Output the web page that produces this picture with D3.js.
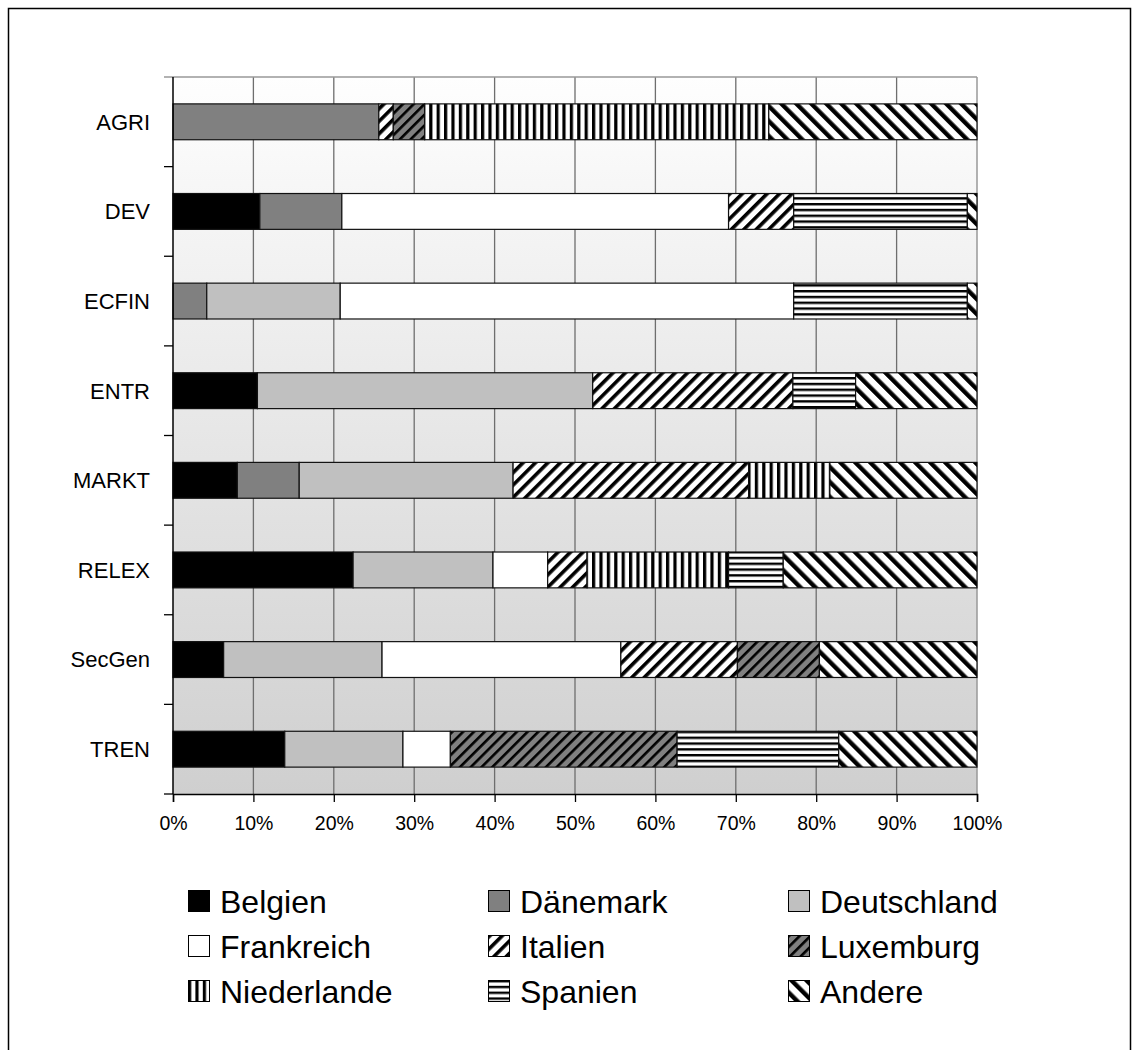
<!DOCTYPE html>
<html lang="de">
<head>
  <meta charset="utf-8">
  <title>Anteile nach Generaldirektion</title>
  <style>
  html, body {padding: 0; margin: 0; overflow: hidden; background: #fff}
  text {font-family: Arial, "Liberation Sans", sans-serif; fill: #000}
</style>
</head>
<body>
  <svg width="1138" height="1050"></svg>
  <script src="https://d3js.org/d3.v7.min.js"></script>
  <script>

  // Werte in Prozent
  var categories = ["AGRI", "DEV", "ECFIN", "ENTR", "MARKT", "RELEX", "SecGen", "TREN"];
  var countries = ["Belgien", "Dänemark", "Deutschland", "Frankreich", "Italien", "Luxemburg", "Niederlande", "Spanien", "Andere"];

  var belgien     = [0,    10.8, 0,    10.5, 8.0,  22.4, 6.3,  13.9];
  var daenemark   = [25.6, 10.2, 4.2,  0,    7.7,  0,    0,    0];
  var deutschland = [0,    0,    16.6, 41.7, 26.6, 17.4, 19.7, 14.7];
  var frankreich  = [0,    48.1, 56.4, 0,    0,    6.8,  29.7, 5.9];
  var italien     = [1.8,  8.1,  0,    24.9, 29.3, 4.9,  14.5, 0];
  var luxemburg   = [3.9,  0,    0,    0,    0,    0,    10.2, 28.2];
  var niederlande = [42.8, 0,    0,    0,    10.1, 17.6, 0,    0];
  var spanien     = [0,    21.6, 21.6, 7.8,  0,    6.8,  0,    20.1];
  var andere      = [25.9, 1.2,  1.2,  15.1, 18.3, 24.1, 19.6, 17.2];

  var xTicks = [0, 0.1, 0.2, 0.3, 0.4, 0.5, 0.6, 0.7, 0.8, 0.9, 1];

  var series = [belgien, daenemark, deutschland, frankreich, italien, luxemburg, niederlande, spanien, andere];

  var rows = categories.map(function(c, i) {
    var r = {cat: c};
    countries.forEach(function(k, j) { r[k] = series[j][i]; });
    return r;
  });

  var svg = d3.select("svg"),
      width = 1138,
      height = 1050,
      margin = {left: 173, right: 161, top: 77, bottom: 256};

  var x = d3.scaleLinear().domain([0, 1]).range([margin.left, width - margin.right]);
  var y = d3.scaleBand().domain(categories)
    .range([margin.top, height - margin.bottom])
    .paddingInner(0.6).paddingOuter(0.3);

  var defs = svg.append("defs");

  // Hintergrund-Verlauf
  var grad = defs.append("linearGradient").attr("id", "bg")
    .attr("x1", 0).attr("y1", 0).attr("x2", 0).attr("y2", 1);
  grad.append("stop").attr("offset", "0%").attr("stop-color", "#fefefe");
  grad.append("stop").attr("offset", "100%").attr("stop-color", "#cfcfcf");

  function stripes(id, size, angle, bg, fg, w) {
    var p = defs.append("pattern").attr("id", id)
      .attr("patternUnits", "userSpaceOnUse")
      .attr("width", size).attr("height", size);
    if (angle) p.attr("patternTransform", "rotate(" + angle + ")");
    p.append("rect").attr("width", size).attr("height", size).attr("fill", bg);
    p.append("rect").attr("width", w).attr("height", size).attr("fill", fg);
  }
  function hstripes(id, size, bg, fg, w) {
    var p = defs.append("pattern").attr("id", id)
      .attr("patternUnits", "userSpaceOnUse")
      .attr("width", size).attr("height", size);
    p.append("rect").attr("width", size).attr("height", size).attr("fill", bg);
    p.append("rect").attr("width", size).attr("height", w).attr("fill", fg);
  }

  stripes("p-italien", 8.8, 45, "#fff", "#000", 3.6);
  stripes("p-luxemburg", 7.6, 45, "#808080", "#000", 2.6);
  stripes("p-niederlande", 7.4, 0, "#fff", "#000", 3.2);
  hstripes("p-spanien", 5.8, "#fff", "#000", 2.4);
  stripes("p-andere", 10.6, -45, "#fff", "#000", 4.4);

  var fills = {
    "Belgien": "#000",
    "Dänemark": "#808080",
    "Deutschland": "#c0c0c0",
    "Frankreich": "#fff",
    "Italien": "url(#p-italien)",
    "Luxemburg": "url(#p-luxemburg)",
    "Niederlande": "url(#p-niederlande)",
    "Spanien": "url(#p-spanien)",
    "Andere": "url(#p-andere)"
  };

  // Rahmen
  svg.append("rect")
    .attr("x", 8.5).attr("y", 8.5)
    .attr("width", 1122).attr("height", 1100)
    .attr("fill", "none").attr("stroke", "#000").attr("stroke-width", 1.5);

  svg.append("rect")
    .attr("x", x(0)).attr("y", margin.top)
    .attr("width", x(1) - x(0)).attr("height", height - margin.bottom - margin.top)
    .attr("fill", "url(#bg)");

  // Gitterlinien
  svg.append("g").selectAll("line")
    .data(xTicks.slice(1, -1))
    .join("line")
      .attr("x1", d => x(d)).attr("x2", d => x(d))
      .attr("y1", margin.top).attr("y2", height - margin.bottom)
      .attr("stroke", "#6e6e6e").attr("stroke-width", 1.3);

  svg.append("line")
    .attr("x1", x(0) - 9).attr("x2", x(1))
    .attr("y1", margin.top).attr("y2", margin.top)
    .attr("stroke", "#999").attr("stroke-width", 1.5);
  svg.append("line")
    .attr("x1", x(1)).attr("x2", x(1))
    .attr("y1", margin.top).attr("y2", height - margin.bottom)
    .attr("stroke", "#999").attr("stroke-width", 1.5);

  // Balken
  var stack = d3.stack().keys(countries).offset(d3.stackOffsetExpand);
  var layers = stack(rows);

  svg.append("g").selectAll("g")
    .data(layers)
    .join("g")
      .attr("fill", d => fills[d.key])
    .selectAll("rect")
    .data(d => d.filter(s => s[1] - s[0] > 0))
    .join("rect")
      .attr("x", d => x(d[0]))
      .attr("y", d => y(d.data.cat))
      .attr("width", d => x(d[1]) - x(d[0]))
      .attr("height", y.bandwidth())
      .attr("stroke", "#111").attr("stroke-width", 1.2);

  // Achsen
  var yBounds = categories.map(c => y(c) - y.step() * 0.3).concat([height - margin.bottom]);
  var yAxis = svg.append("g");
  yAxis.append("line")
    .attr("x1", x(0)).attr("x2", x(0))
    .attr("y1", margin.top).attr("y2", height - margin.bottom)
    .attr("stroke", "#000").attr("stroke-width", 1.5);
  yAxis.selectAll("line.tick")
    .data(yBounds.slice(1))
    .join("line").attr("class", "tick")
      .attr("x1", x(0) - 9).attr("x2", x(0))
      .attr("y1", d => d).attr("y2", d => d)
      .attr("stroke", "#000").attr("stroke-width", 1.3);
  yAxis.selectAll("text")
    .data(categories)
    .join("text")
      .attr("x", 150)
      .attr("y", d => y(d) + y.bandwidth() / 2)
      .attr("dy", "0.36em")
      .attr("text-anchor", "end")
      .style("font-size", "22px")
      .text(d => d);

  var xAxis = svg.append("g")
    .attr("transform", "translate(0," + (height - margin.bottom) + ")")
    .call(d3.axisBottom(x).tickValues(xTicks).tickFormat(d3.format(".0%")).tickSize(8).tickPadding(14));
  xAxis.select(".domain").attr("stroke", "#000").attr("stroke-width", 1.5);
  xAxis.selectAll(".tick line").attr("stroke", "#000").attr("stroke-width", 1.3);
  xAxis.selectAll(".tick text")
    .style("font-size", "19.5px")
    .style("font-family", "Arial, 'Liberation Sans', sans-serif");

  // Legende
  var legend = svg.append("g");
  var item = legend.selectAll("g")
    .data(countries)
    .join("g")
      .attr("transform", (d, i) => "translate(" + (188 + (i % 3) * 300) + "," + (890 + Math.floor(i / 3) * 45) + ")");
  item.append("rect")
    .attr("x", 0.5).attr("y", 0.5)
    .attr("width", 21).attr("height", 21)
    .attr("fill", d => fills[d])
    .attr("stroke", "#000").attr("stroke-width", 1);
  item.append("text")
    .attr("x", 32).attr("y", 23)
    .style("font-size", "32px")
    .text(d => d);

  </script>
</body>
</html>
